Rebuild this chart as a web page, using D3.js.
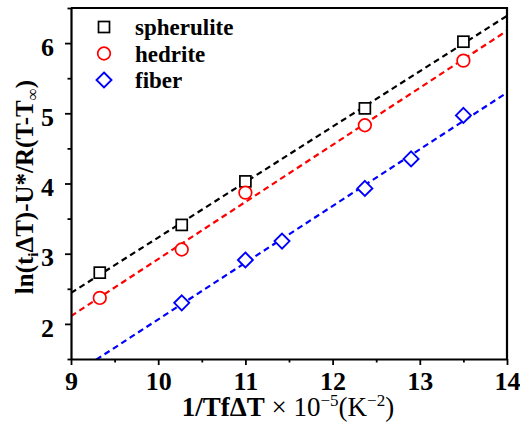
<!DOCTYPE html>
<html>
<head>
<meta charset="utf-8">
<script src="https://cdn.jsdelivr.net/npm/d3@7"></script>
</head>
<body style="margin:0;padding:0;background:#fff">
<svg id="chart" width="520" height="425" font-family="Liberation Serif" style="display:block"></svg>
<script>
// Measured points for each morphology
const spheruliteX = [9.33, 10.27, 11.0, 12.37, 13.5];
const spheruliteY = [2.73, 3.41, 4.03, 5.07, 6.02];
const hedriteX = [9.33, 10.27, 11.0, 12.37, 13.5];
const hedriteY = [2.37, 3.06, 3.87, 4.83, 5.75];
const fiberX = [10.27, 11.0, 11.42, 12.37, 12.9, 13.5];
const fiberY = [2.30, 2.91, 3.18, 3.93, 4.35, 4.97];

const xTicks = [9, 10, 11, 12, 13, 14];
const yTicks = [2, 3, 4, 5, 6];
const seriesNames = ["spherulite", "hedrite", "fiber"];

const FONT = "Liberation Serif";

const series = [
  { name: seriesNames[0], xs: spheruliteX, ys: spheruliteY, color: "#000000", shape: "square" },
  { name: seriesNames[1], xs: hedriteX, ys: hedriteY, color: "#ff0000", shape: "circle" },
  { name: seriesNames[2], xs: fiberX, ys: fiberY, color: "#0000ff", shape: "diamond" }
];

const margin = { left: 71, right: 13, top: 8, bottom: 66 };
const W = 520, H = 425;
const x = d3.scaleLinear().domain([9, 14]).range([margin.left, W - margin.right]);
const y = d3.scaleLinear().domain([1.5, 6.5]).range([H - margin.bottom, margin.top]);

const svg = d3.select("#chart");

// Clip for fit lines
svg.append("defs").append("clipPath").attr("id", "plotClip")
  .append("rect")
  .attr("x", x(9)).attr("y", y(6.5))
  .attr("width", x(14) - x(9)).attr("height", y(1.5) - y(6.5));

// Least-squares fit for each series
function fit(xs, ys) {
  const mx = d3.mean(xs), my = d3.mean(ys);
  let sxy = 0, sxx = 0;
  xs.forEach((v, i) => { sxy += (v - mx) * (ys[i] - my); sxx += (v - mx) * (v - mx); });
  const b = sxy / sxx;
  return { a: my - b * mx, b };
}

const lines = svg.append("g").attr("clip-path", "url(#plotClip)");
series.forEach(s => {
  const f = fit(s.xs, s.ys);
  const x0 = 9, x1 = 14;
  lines.append("line")
    .attr("x1", x(x0)).attr("y1", y(f.a + f.b * x0))
    .attr("x2", x(x1)).attr("y2", y(f.a + f.b * x1))
    .attr("stroke", s.color)
    .attr("stroke-width", 2.2)
    .attr("stroke-dasharray", "6,4");
});

function drawMarker(g, shape, cx, cy, color) {
  if (shape === "square") {
    g.append("rect").attr("x", cx - 5.5).attr("y", cy - 5.5).attr("width", 11).attr("height", 11)
      .attr("fill", "#fff").attr("stroke", color).attr("stroke-width", 1.7);
  } else if (shape === "circle") {
    g.append("circle").attr("cx", cx).attr("cy", cy).attr("r", 6.3)
      .attr("fill", "#fff").attr("stroke", color).attr("stroke-width", 1.7);
  } else {
    const r = 7.5;
    g.append("path")
      .attr("d", `M${cx},${cy - r}L${cx + r},${cy}L${cx},${cy + r}L${cx - r},${cy}Z`)
      .attr("fill", "#fff").attr("stroke", color).attr("stroke-width", 1.9);
  }
}

const pts = svg.append("g");
series.forEach(s => {
  s.xs.forEach((v, i) => drawMarker(pts, s.shape, x(v), y(s.ys[i]), s.color));
});

// Axes with outward major and minor ticks
const xMinor = d3.range(9.5, 14, 1);
const yMinor = d3.range(1.5, 6.6, 1);

const gx = svg.append("g").attr("transform", `translate(0,${y(1.5)})`);
gx.call(d3.axisBottom(x).tickValues(xTicks).tickFormat(d3.format("d")).tickSize(6).tickSizeOuter(0));
svg.append("g").attr("transform", `translate(0,${y(1.5)})`)
  .call(d3.axisBottom(x).tickValues(xMinor).tickFormat("").tickSize(3.5).tickSizeOuter(0))
  .select(".domain").remove();

const gy = svg.append("g").attr("transform", `translate(${x(9)},0)`);
gy.call(d3.axisLeft(y).tickValues(yTicks).tickFormat(d3.format("d")).tickSize(6).tickSizeOuter(0));
svg.append("g").attr("transform", `translate(${x(9)},0)`)
  .call(d3.axisLeft(y).tickValues(yMinor).tickFormat("").tickSize(3.5).tickSizeOuter(0))
  .select(".domain").remove();

svg.selectAll(".tick line").attr("stroke", "#000").attr("stroke-width", 1.8);
svg.selectAll(".domain").attr("stroke", "#000").attr("stroke-width", 2.2);
svg.selectAll("g").filter(function () { return this.hasAttribute("font-family"); })
  .attr("font-family", FONT);

gx.selectAll(".tick text")
  .attr("font-family", FONT)
  .attr("font-size", 26).attr("font-weight", "bold").attr("fill", "#000")
  .attr("dy", "0.84em");
gy.selectAll(".tick text")
  .attr("font-family", FONT)
  .attr("font-size", 26).attr("font-weight", "bold").attr("fill", "#000")
  .attr("x", -17).attr("dy", "0.47em");

// Frame: top and right edges
svg.append("path")
  .attr("d", `M${x(9)},${y(6.5)}L${x(14)},${y(6.5)}L${x(14)},${y(1.5)}`)
  .attr("fill", "none").attr("stroke", "#000").attr("stroke-width", 2.2);

// Legend
const legend = svg.append("g");
series.forEach((s, i) => {
  const ly = 27 + i * 26.5;
  drawMarker(legend, s.shape, 104, ly, s.color);
  legend.append("text")
    .attr("x", 135).attr("y", ly + 8)
    .attr("font-family", FONT)
    .attr("font-size", 23).attr("font-weight", "bold").attr("fill", "#000")
    .text(s.name);
});

// X axis title
const xt = svg.append("text")
  .attr("x", 288).attr("y", 416)
  .attr("text-anchor", "middle")
  .attr("font-family", FONT)
  .attr("font-size", 27).attr("fill", "#000");
xt.append("tspan").attr("font-weight", "bold").text("1/TfΔT");
xt.append("tspan").text(" × 10");
xt.append("tspan").attr("font-size", 17).attr("dy", -10).text("−5");
xt.append("tspan").attr("dy", 10).text("(K");
xt.append("tspan").attr("font-size", 17).attr("dy", -10).text("−2");
xt.append("tspan").attr("dy", 10).text(")");

// Y axis title
const yt = svg.append("text")
  .attr("transform", "translate(33,187) rotate(-90)")
  .attr("text-anchor", "middle")
  .attr("font-family", FONT)
  .attr("font-size", 25).attr("font-weight", "bold").attr("fill", "#000");
yt.append("tspan").text("ln(t");
yt.append("tspan").attr("font-size", 15).attr("dy", 5).text("i");
yt.append("tspan").attr("dy", -5).text("ΔT)-U*/R(T-T");
yt.append("tspan").attr("font-size", 17).attr("font-weight", "normal").attr("dy", 5).text("∞");
yt.append("tspan").attr("dy", -5).text(")");
</script>
</body>
</html>
